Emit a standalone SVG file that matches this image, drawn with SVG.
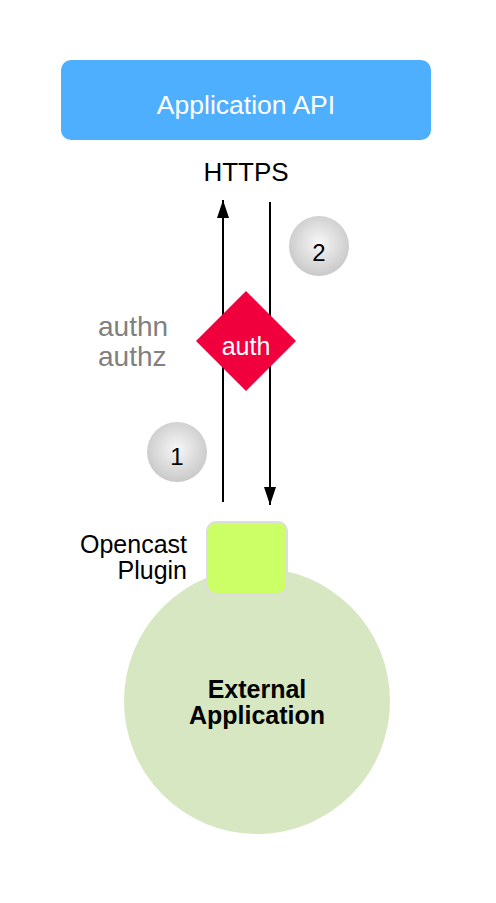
<svg xmlns="http://www.w3.org/2000/svg" width="496" height="903" viewBox="0 0 496 903">
<defs>
<radialGradient id="g" cx="50%" cy="45%" r="55%">
<stop offset="0" stop-color="#f7f7f7"/>
<stop offset="1" stop-color="#c9c9c9"/>
</radialGradient>
<marker id="ah" viewBox="0 0 18 12" refX="18" refY="6" markerWidth="18" markerHeight="12" markerUnits="userSpaceOnUse" orient="auto">
<path d="M0,0 L18,6 L0,12 Z" fill="#000"/>
</marker>
<style>
text{font-family:"Liberation Sans",Arial,sans-serif}
.c{text-anchor:middle}
.line{stroke:#000;stroke-width:2;fill:none}
</style>
</defs>
<rect width="496" height="903" fill="#fff"/>
<g id="api">
<rect x="61" y="60" width="370" height="80" rx="10" fill="#4FAFFF"/>
<text x="246" y="114" class="c" font-size="26.5" fill="#fff">Application API</text>
</g>
<g id="https-label">
<text x="246" y="181" class="c" font-size="26" fill="#000">HTTPS</text>
</g>
<g id="connectors">
<line class="line" x1="223" y1="502" x2="223" y2="200" marker-end="url(#ah)"/>
<line class="line" x1="270" y1="202" x2="270" y2="505" marker-end="url(#ah)"/>
</g>
<g id="auth">
<polygon points="246,291 296,341 246,391 196,341" fill="#F0003C"/>
<text x="246" y="355" class="c" font-size="25" fill="#fff">auth</text>
</g>
<g id="authn-label">
<text x="98" y="336" font-size="28" fill="#808080">authn</text>
<text x="98" y="366" font-size="28" fill="#808080">authz</text>
</g>
<g id="step2">
<circle cx="319" cy="246" r="30" fill="url(#g)"/>
<text x="319" y="261" class="c" font-size="24" fill="#000">2</text>
</g>
<g id="step1">
<circle cx="177" cy="452" r="30" fill="url(#g)"/>
<text x="177" y="465" class="c" font-size="24" fill="#000">1</text>
</g>
<g id="external-app">
<circle cx="257" cy="701" r="133" fill="#D6E7C1"/>
<text x="257" y="698" class="c" font-size="25" font-weight="bold" fill="#000">External</text>
<text x="257" y="724" class="c" font-size="25" font-weight="bold" fill="#000">Application</text>
</g>
<g id="plugin">
<rect x="207" y="522" width="80" height="72" rx="9" fill="#CCFF66" stroke="#dddddd" stroke-width="2"/>
<text x="187" y="553" text-anchor="end" font-size="25" fill="#000">Opencast</text>
<text x="187" y="579" text-anchor="end" font-size="25" fill="#000">Plugin</text>
</g>
</svg>
